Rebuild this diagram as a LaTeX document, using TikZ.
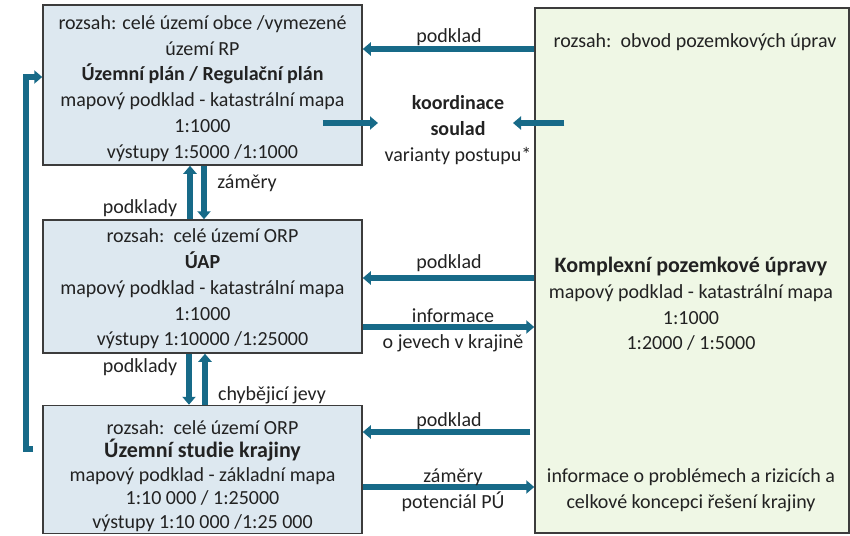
\documentclass[tikz,border=0pt]{standalone}
\usepackage{fontspec}
\setmainfont{Carlito}
\usetikzlibrary{arrows.meta}
\definecolor{flowc}{HTML}{176A88}
\definecolor{boxline}{HTML}{3C3C3C}
\definecolor{bluefill}{HTML}{DDE8F0}
\definecolor{greenfill}{HTML}{EFF7E5}
\definecolor{txt}{HTML}{222222}
\newcommand{\bigbold}[1]{{\fontsize{22}{25.8}\selectfont\textbf{#1}}}
\tikzset{
  basefont/.style={font=\fontsize{20}{25.8}\selectfont, text=txt},
  bluebox/.style={draw=boxline, line width=1.5pt, fill=bluefill, inner sep=0pt},
  greenbox/.style={draw=boxline, line width=1.5pt, fill=greenfill, inner sep=0pt},
  lbl/.style={basefont, align=center, inner sep=0pt},
  flow/.style={draw=flowc, line width=6pt, -{Triangle[width=13pt,length=8pt]}}
}
\begin{document}
\begin{tikzpicture}[x=1pt,y=-1pt]
\useasboundingbox (0,0) rectangle (850,535);
\node[font=\fontsize{46}{46}\selectfont, text=black, inner sep=0pt] (paren) at (-4,46) {)};
% boxes
\node[bluebox, minimum width=319pt, minimum height=160pt] (up) at (202.5,85) {};
\node[bluebox, minimum width=319pt, minimum height=133pt] (mid) at (202.5,286.5) {};
\node[bluebox, minimum width=319pt, minimum height=128pt] (low) at (202.5,469.5) {};
\node[greenbox, minimum width=314pt, minimum height=525pt] (kpu) at (692,270.5) {};
% box texts
\node[lbl] (upt) at (202.5,88.5)
  {rozsah: celé území obce /vymezené\\území RP\\\textbf{Územní plán / Regulační plán}\\mapový podklad - katastrální mapa\\1:1000\\výstupy 1:5000 /1:1000};
\node[lbl] (midt) at (202.5,289)
  {rozsah:\ \ celé území ORP\\\textbf{ÚAP}\\mapový podklad - katastrální mapa\\1:1000\\výstupy 1:10000 /1:25000};
\node[lbl, font=\fontsize{20}{23.5}\selectfont] (lowt) at (202.5,476)
  {rozsah:\ \ celé území ORP\\\bigbold{Územní studie krajiny}\\mapový podklad - základní mapa\\1:10 000 / 1:25000\\výstupy 1:10 000 /1:25 000};
% green texts
\node[lbl] (g1) at (695,42) {rozsah:\ \ obvod pozemkových úprav};
\node[lbl] (g2) at (691,304) {\bigbold{Komplexní pozemkové úpravy}\\mapový podklad - katastrální mapa\\1:1000\\1:2000 / 1:5000};
\node[lbl] (g3) at (691,490) {informace o problémech a rizicích a\\celkové koncepci řešení krajiny};
% koordinace
\node[lbl] (koord) at (458,130) {\textbf{koordinace}\\\textbf{soulad}\\varianty postupu*};
\coordinate (kL) at (378,123);
\coordinate (kR) at (513,123);
\draw[flow] ([xshift=-40pt]up.east |- 0,123) -- (kL);
\draw[flow] ([xshift=30pt]kpu.west |- 0,123) -- (kR);
% horizontal arrows
\draw[flow] (kpu.west |- 0,49) -- (up.east |- 0,49);
\node[lbl] (l1) at (449,37) {podklad};
\draw[flow] (kpu.west |- 0,278) -- (mid.east |- 0,278);
\node[lbl] (l2) at (449,263) {podklad};
\draw[flow] (mid.east |- 0,327) -- (kpu.west |- 0,327);
\node[lbl] (l3) at (453,330) {informace\\o jevech v krajině};
\draw[flow] ([xshift=-4pt]kpu.west |- 0,432) -- (low.east |- 0,432);
\node[lbl] (l4) at (449,421) {podklad};
\draw[flow] (low.east |- 0,487) -- (kpu.west |- 0,487);
\node[lbl] (l5) at (453,490) {záměry\\potenciál PÚ};
% vertical arrows
\draw[flow] (mid.north -| 190,0) -- (up.south -| 190,0);
\draw[flow] (up.south -| 204,0) -- (mid.north -| 204,0);
\node[lbl] (l6) at (247,183) {záměry};
\node[lbl] (l7) at (140,208) {podklady};
\draw[flow] (mid.south -| 189,0) -- (low.north -| 189,0);
\draw[flow] (low.north -| 205,0) -- (mid.south -| 205,0);
\node[lbl] (l8) at (140,367) {podklady};
\node[lbl] (l9) at (272,395) {chybějicí jevy};
% left loop
\coordinate (loopstart) at (33,449);
\draw[flow] (loopstart) -- (26,449) |- (up.west |- 0,77);
\end{tikzpicture}
\end{document}
